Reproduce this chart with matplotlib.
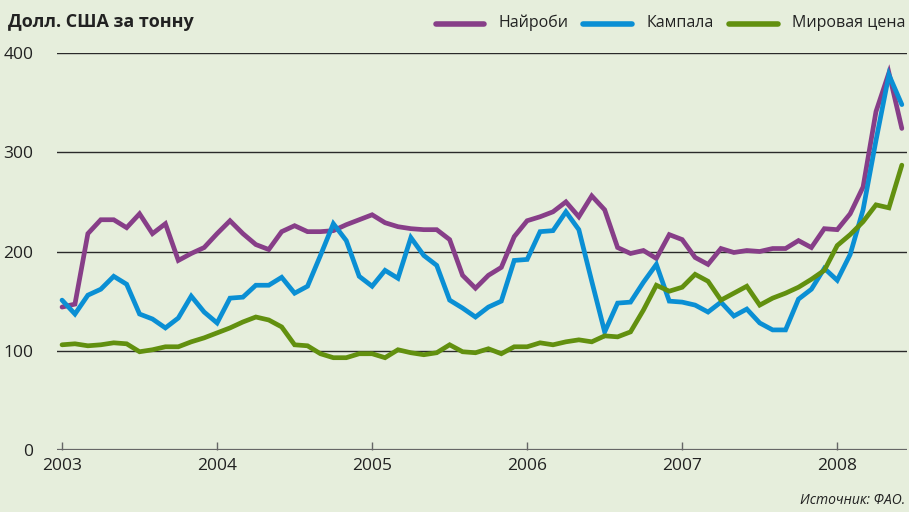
import numpy as np
import matplotlib.pyplot as plt

# --- Monthly prices, Jan 2003 .. Jun 2008 (USD per tonne) ---
nairobi = [144, 147, 218, 232, 232, 224, 238, 218, 228, 191, 198, 204,
           218, 231, 218, 207, 202, 220, 226, 220, 220, 221, 227, 232,
           237, 229, 225, 223, 222, 222, 212, 176, 163, 176, 184, 215,
           231, 235, 240, 250, 235, 256, 242, 204, 198, 201, 193, 217,
           212, 194, 187, 203, 199, 201, 200, 203, 203, 211, 204, 223,
           222, 238, 265, 341, 380, 324]
kampala = [151, 137, 156, 162, 175, 167, 137, 132, 123, 133, 155, 139,
           128, 153, 154, 166, 166, 174, 158, 165, 196, 228, 211, 175,
           165, 181, 173, 214, 196, 186, 151, 143, 134, 144, 150, 191,
           192, 220, 221, 240, 222, 170, 119, 148, 149, 169, 187, 150,
           149, 146, 139, 149, 135, 142, 128, 121, 121, 152, 162, 183,
           171, 197, 242, 312, 378, 348]
world = [106, 107, 105, 106, 108, 107, 99, 101, 104, 104, 109, 113,
         118, 123, 129, 134, 131, 124, 106, 105, 97, 93, 93, 97,
         97, 93, 101, 98, 96, 98, 106, 99, 98, 102, 97, 104,
         104, 108, 106, 109, 111, 109, 115, 114, 119, 141, 166, 160,
         164, 177, 170, 151, 158, 165, 146, 153, 158, 164, 172, 181,
         206, 217, 230, 247, 244, 287]

series = ["Найроби", "Кампала", "Мировая цена"]
colors = ["#873E88", "#0A8FD4", "#62900F"]
years = ["2003", "2004", "2005", "2006", "2007", "2008"]
yticks = [0, 100, 200, 300, 400]

plt.rcParams['font.family'] = ['Open Sans', 'DejaVu Sans']

bg = "#E6EEDC"
fig = plt.figure(figsize=(9.09, 5.12), dpi=100, facecolor=bg)
W, H = 909, 512
ax = fig.add_axes([57 / W, 62 / H, 850 / W, 397 / H])
ax.set_facecolor(bg)

months = np.arange(len(nairobi))
for vals, col in zip([nairobi, kampala, world], colors):
    ax.plot(months, vals, color=col, lw=3.4, solid_joinstyle='miter',
            solid_capstyle='round', clip_on=False, zorder=3)

ax.set_xlim(-0.39, 65.4)
ax.set_ylim(0, 400)

# gridlines
for v in yticks[1:]:
    ax.axhline(v, color="#2a2a2a", lw=1.0, zorder=1)
ax.axhline(0, color="#666666", lw=1.6, zorder=1)

for s in ax.spines.values():
    s.set_visible(False)

ax.set_xticks(np.arange(0, 61, 12))
ax.set_xticklabels(years)
ax.tick_params(axis='x', direction='in', length=6, width=1, color="#666666",
               labelsize=12.5, pad=6, labelcolor="#222222")
ax.set_yticks(yticks)
ax.set_yticklabels([str(v) for v in yticks])
ax.tick_params(axis='y', length=0, labelsize=12.5, pad=17, labelcolor="#222222")

fig.text(8 / W, 1 - 22 / H, "Долл. США за тонну", fontsize=13, fontweight='bold',
         va='center', ha='left', color="#222222")

# legend
leg_x = [(436, 484, 499), (583, 632, 647), (729, 778, 792)]
for (x0, x1, xt), col, name in zip(leg_x, colors, series):
    fig.add_artist(plt.Line2D([x0 / W, x1 / W], [1 - 24 / H, 1 - 24 / H], color=col,
                              lw=4, solid_capstyle='round', transform=fig.transFigure))
    fig.text(xt / W, 1 - 23 / H, name, fontsize=11.5, va='center', ha='left',
             color="#222222")

fig.text(905 / W, 1 - 501 / H, "Источник: ФАО.", fontsize=10, style='italic',
         ha='right', va='center', color="#222222")

fig.savefig("out.png", dpi=100, facecolor=bg)
